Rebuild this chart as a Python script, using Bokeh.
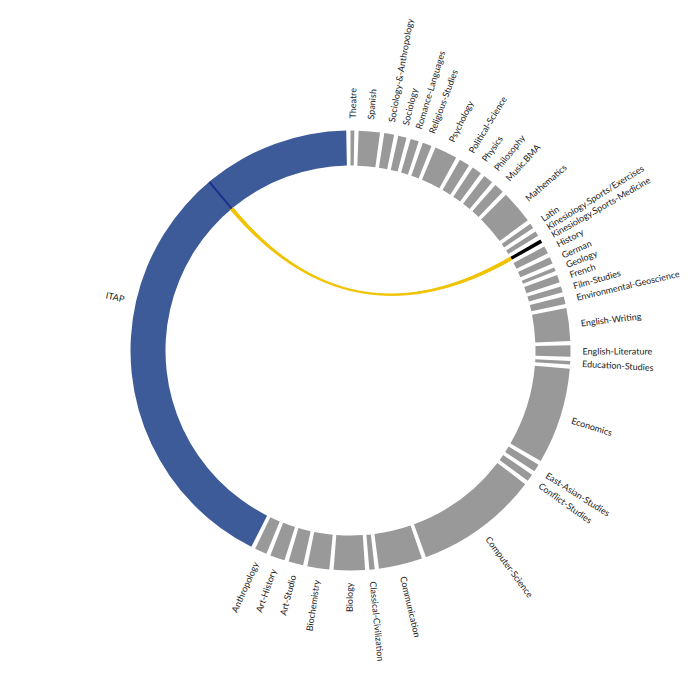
import numpy as np
from bokeh.plotting import figure
from bokeh.models import Range1d, ColumnDataSource
from bokeh.embed import file_html
from bokeh.resources import INLINE
from bokeh.core.properties import value

# ---- data -----------------------------------------------------------------
departments = [
    "Theatre", "Spanish", "Sociology-&-Anthropology", "Sociology",
    "Romance-Languages", "Religious-Studies", "Psychology", "Political-Science",
    "Physics", "Philosophy", "Music.BMA", "Mathematics", "Latin",
    "Kinesiology.Sports/Exercises", "Kinesiology.Sports-Medicine", "History",
    "German", "Geology", "French", "Film-Studies", "Environmental-Geoscience",
    "English-Writing", "English-Literature", "Education-Studies", "Economics",
    "East-Asian-Studies", "Conflict-Studies", "Computer-Science",
    "Communication", "Classical-Civilization", "Biology", "Biochemistry",
    "Art-Studio", "Art-History", "Anthropology", "ITAP",
]
counts = [
    10, 56, 26, 22,
    22, 24, 60, 28,
    26, 26, 26, 88, 13,
    13, 10, 20,
    18, 10, 20, 16, 20,
    86, 30, 9, 254,
    20, 19, 325,
    115, 14, 82, 58,
    39, 39, 32, 1520,
]
chord_source = "ITAP"
chord_target = "Kinesiology.Sports-Medicine"
chord_value = 10
chord_source_offset = 1127   # flows of ITAP placed before this chord

# ---- layout ---------------------------------------------------------------
PAD = 0.0195
R_IN, R_OUT, R_LAB = 185, 220, 232
n = len(counts)
k = (2 * np.pi - n * PAD) / sum(counts)
starts, ends = [], []
a = 0.0
for c in counts:
    starts.append(a)
    ends.append(a + c * k)
    a += c * k + PAD
starts = np.array(starts)
ends = np.array(ends)

GRAY, BLUE, NAVY, YELLOW = "#999999", "#3d5a99", "#1b2f8c", "#f0c300"
colors = []
for d in departments:
    if d == chord_source:
        colors.append(BLUE)
    elif d == chord_target:
        colors.append("#000000")
    else:
        colors.append(GRAY)

p = figure(width=700, height=700, x_range=Range1d(-350, 350), y_range=Range1d(-350, 350),
           output_backend="svg", toolbar_location=None, min_border=0)
p.axis.visible = False
p.grid.visible = False
p.outline_line_color = None
p.background_fill_color = "white"

ring = ColumnDataSource(dict(
    start=np.pi / 2 - ends, end=np.pi / 2 - starts, color=colors))
p.annular_wedge(x=0, y=0, inner_radius=R_IN, outer_radius=R_OUT,
                start_angle="start", end_angle="end", fill_color="color",
                line_color=None, source=ring)

# chord ribbon
si = departments.index(chord_source)
ti = departments.index(chord_target)
a0 = starts[si] + chord_source_offset * k
a1 = a0 + chord_value * k
b0 = starts[ti]
b1 = b0 + chord_value * k


def arc(t0, t1, r, m=20):
    t = np.linspace(t0, t1, m)
    return list(r * np.sin(t)), list(r * np.cos(t))


def quad(pa, pb, m=60):
    t = np.linspace(0, 1, m)
    x = (1 - t) ** 2 * pa[0] + t ** 2 * pb[0]
    y = (1 - t) ** 2 * pa[1] + t ** 2 * pb[1]
    return list(x), list(y)


def pt(t, r):
    return (r * np.sin(t), r * np.cos(t))


xs, ys = [], []
ax, ay = arc(a0, a1, R_IN)
xs += ax; ys += ay
qx, qy = quad(pt(a1, R_IN), pt(b0, R_IN))
xs += qx; ys += qy
bx, by = arc(b0, b1, R_IN)
xs += bx; ys += by
qx, qy = quad(pt(b1, R_IN), pt(a0, R_IN))
xs += qx; ys += qy
p.patch(xs, ys, fill_color=YELLOW, line_color=YELLOW, line_width=1.0)

# highlighted sub-arc inside the source group
p.annular_wedge(x=0, y=0, inner_radius=R_IN, outer_radius=R_OUT,
                start_angle=np.pi / 2 - a1 + 0.004, end_angle=np.pi / 2 - a0 - 0.004,
                fill_color=NAVY, line_color=None)

# labels
mids = (starts + ends) / 2
lx = R_LAB * np.sin(mids)
ly = R_LAB * np.cos(mids)
ang = np.where(mids < np.pi, np.pi / 2 - mids, 3 * np.pi / 2 - mids)
align = ["left" if m < np.pi else "right" for m in mids]
lab = ColumnDataSource(dict(x=lx, y=ly, text=departments, angle=ang, align=align))
p.text(x="x", y="y", text="text", angle="angle", text_align="align",
       text_baseline="middle", text_font=value("Lato"), text_font_size="9px",
       text_color="#1a1a1a", source=lab)

open("out.html", "w").write(file_html(p, INLINE))
